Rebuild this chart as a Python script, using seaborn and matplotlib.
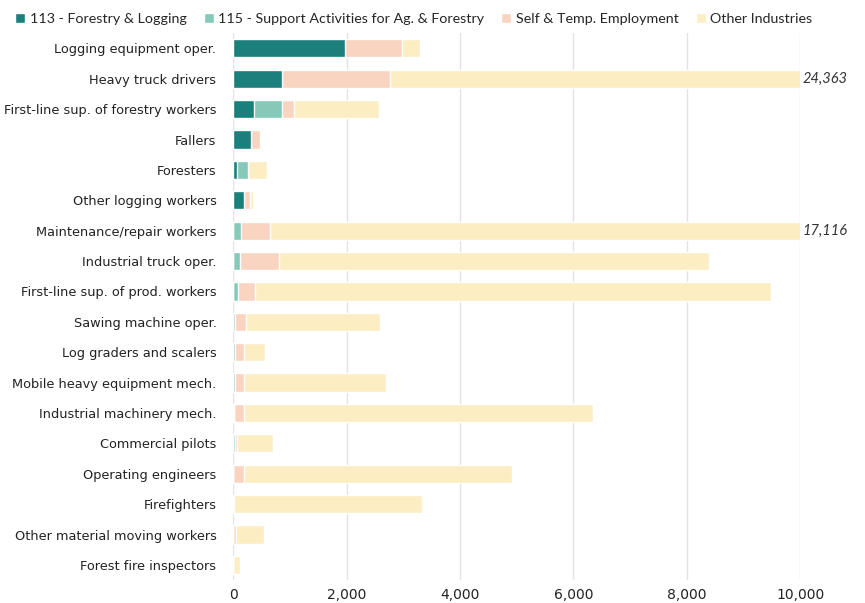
import numpy as np
import pandas as pd
import matplotlib.pyplot as plt
import seaborn as sns
from matplotlib.patches import Patch

occupations = [
    "Logging equipment oper.", "Heavy truck drivers", "First-line sup. of forestry workers",
    "Fallers", "Foresters", "Other logging workers", "Maintenance/repair workers",
    "Industrial truck oper.", "First-line sup. of prod. workers", "Sawing machine oper.",
    "Log graders and scalers", "Mobile heavy equipment mech.", "Industrial machinery mech.",
    "Commercial pilots", "Operating engineers", "Firefighters",
    "Other material moving workers", "Forest fire inspectors",
]
forestry_logging = [1970, 870, 360, 320, 70, 185, 0, 0, 0, 0, 0, 0, 20, 0, 0, 0, 0, 0]
support_activities = [0, 0, 500, 0, 190, 0, 145, 130, 80, 40, 40, 40, 0, 40, 0, 0, 0, 0]
self_temp = [1000, 1890, 215, 160, 0, 105, 510, 685, 310, 195, 150, 160, 180, 20, 190, 10, 50, 0]
other_ind = [320, 21603, 1500, 0, 340, 55, 16461, 7570, 9100, 2360, 380, 2500, 6150, 640, 4720, 3330, 500, 130]

series = ["113 - Forestry & Logging", "115 - Support Activities for Ag. & Forestry",
          "Self & Temp. Employment", "Other Industries"]
colors = ["#1b807c", "#86c9b9", "#f9d4c0", "#fdedc3"]

df = pd.DataFrame({"occ": occupations, series[0]: forestry_logging, series[1]: support_activities,
                   series[2]: self_temp, series[3]: other_ind})
cum = df[series].cumsum(axis=1)

fig = plt.figure(figsize=(8.65, 6.03), dpi=100)
ax = fig.add_axes([0.2695, 0.038, 0.6555, 0.907])
sns.set_style("white")
plt.rcParams["font.family"] = ["Lato", "DejaVu Sans"]

# draw cumulative totals from the outside in
for s, c in zip(series[::-1], colors[::-1]):
    sns.barplot(x=cum[s], y=df["occ"], color=c, width=0.6, ax=ax, saturation=1, orient="h")

ax.set_xlim(0, 10000)
ax.set_xticks(range(0, 10001, 2000))
ax.set_xticklabels([f"{v:,}" for v in range(0, 10001, 2000)], fontsize=10, color="#222222")
ax.tick_params(axis="y", labelsize=9.3, length=0, pad=12, labelcolor="#222222")
ax.tick_params(axis="x", length=0, pad=6)
ax.grid(axis="x", color="#e3e3e3", linewidth=1)
ax.set_axisbelow(True)
for sp in ax.spines.values():
    sp.set_visible(False)
ax.set_xlabel("")
ax.set_ylabel("")

totals = cum[series[-1]]
for i, t in enumerate(totals):
    if t > 10000:
        ax.text(10050, i, f"{t:,}", va="center", ha="left", fontsize=10.5,
                style="italic", color="#333333", clip_on=False)

handles = [Patch(facecolor=c, label=s) for s, c in zip(series, colors)]
fig.legend(handles=handles, loc="upper left", bbox_to_anchor=(0.003, 1.0), ncol=4, frameon=False,
           fontsize=10.3, handlelength=0.7, handleheight=0.7, handletextpad=0.3, columnspacing=1.2)

fig.savefig("out.png", dpi=100)
